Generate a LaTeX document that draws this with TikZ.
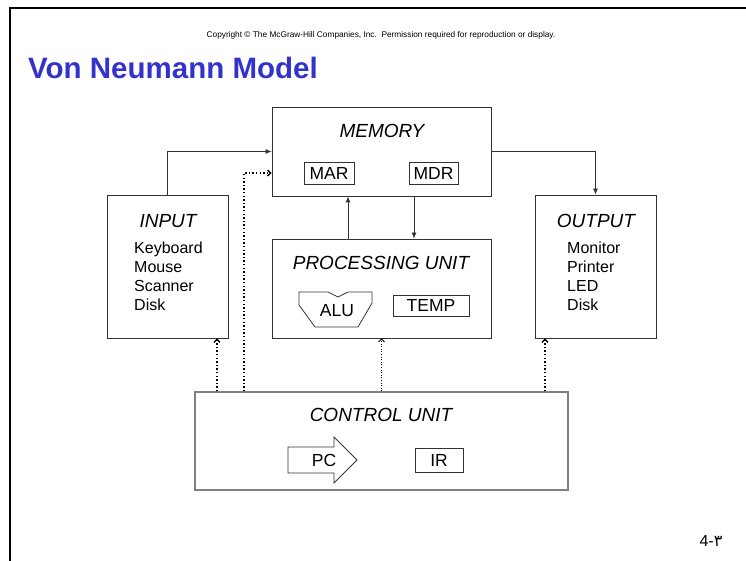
\documentclass[tikz,border=0pt]{standalone}
\usepackage{fontspec}
\setmainfont{Liberation Sans}
\newfontfamily\arabicfont[Script=Arabic]{DejaVu Sans}
\TeXXeTstate=1
\usetikzlibrary{arrows.meta, positioning}
\definecolor{titleblue}{HTML}{3333CC}
\definecolor{boxline}{HTML}{333333}
\definecolor{ctrlline}{HTML}{7F7F7F}

\begin{document}
\begin{tikzpicture}[
  x=1pt, y=-1pt,
  unit/.style={rectangle, draw=boxline, line width=0.8pt, inner sep=0pt},
  unitname/.style={font=\fontsize{19}{22}\selectfont\itshape, inner sep=0pt},
  devices/.style={font=\fontsize{16}{19}\selectfont, align=left, inner sep=0pt, anchor=north west},
  reg/.style={rectangle, draw=boxline, line width=0.8pt, inner sep=0pt, minimum height=22pt, font=\fontsize{17.5}{18}\selectfont},
  arrow/.style={-{Latex[length=6pt, width=5pt]}, draw=boxline, line width=0.8pt},
  ctrl/.style={-{Straight Barb[length=3pt, width=6pt]}, draw=black, line width=1.4pt, dash pattern=on 1.4pt off 2.2pt},
  ctrlthin/.style={ctrl, line width=0.8pt, dash pattern=on 1pt off 1.6pt}
]
  \useasboundingbox (0,0) rectangle (746,561);

  % Slide edge
  \draw[line width=2.5pt, line join=miter] (10,561) -- (10,8) -- (746,8);

  % Header
  \node[font=\fontsize{8.3}{9}\selectfont, inner sep=0pt] (copyright) at (381,35)
    {Copyright \textcopyright{} The McGraw-Hill Companies, Inc.\ \ Permission required for reproduction or display.};
  \node[anchor=base west, font=\fontsize{29.5}{31}\selectfont\bfseries, text=titleblue, inner sep=0pt] (title) at (28,79) {Von Neumann Model};

  % Memory
  \node[unit, minimum width=219pt, minimum height=89pt] (memory) at (381.5,151.5) {};
  \node[unitname] (memname) at (382,131) {MEMORY};
  \node[reg, minimum width=50pt] (mar) at (329,173) {MAR};
  \node[reg, minimum width=49pt] (mdr) at (433.5,173) {MDR};

  % Input and output
  \node[unit, minimum width=121pt, minimum height=143pt] (input) at (167.5,266.5) {};
  \node[unitname] (inname) at (168,221) {INPUT};
  \node[devices] (indev) at (134,242) {Keyboard\\Mouse\\Scanner\\Disk};

  \node[unit, minimum width=121pt, minimum height=143pt] (output) at (595.5,266.5) {};
  \node[unitname] (outname) at (596,221) {OUTPUT};
  \node[devices] (outdev) at (567,242) {Monitor\\Printer\\LED\\Disk};

  % Processing unit
  \node[unit, minimum width=219pt, minimum height=99pt] (pu) at (381.5,288.5) {};
  \node[unitname] (puname) at (381,263) {PROCESSING UNIT};
  \draw[draw=boxline, line width=0.8pt] (299,292) -- (328,292) -- (338,297) -- (348,292) -- (372,292)
    -- (372,303) -- (358,327) -- (315,327) -- (299,305) -- cycle;
  \node[font=\fontsize{17.5}{18}\selectfont, inner sep=0pt] (alu) at (337,311) {ALU};
  \node[reg, minimum width=76pt, minimum height=21pt] (temp) at (431,305.5) {TEMP};

  % Control unit
  \node[unit, draw=ctrlline, line width=1.2pt, minimum width=373pt, minimum height=98pt] (cu) at (381.5,441) {};
  \node[unitname] (cuname) at (381,415) {CONTROL UNIT};
  \draw[draw=boxline, line width=0.8pt] (288,447) -- (334,447) -- (334,437) -- (357,460)
    -- (334,483) -- (334,473) -- (288,473) -- cycle;
  \node[font=\fontsize{17.5}{18}\selectfont, inner sep=0pt] (pc) at (324,460) {PC};
  \node[reg, minimum width=48pt, minimum height=24pt] (ir) at (439,460) {IR};

  % Data paths
  \draw[arrow] (input.north) |- (memory.west);
  \draw[arrow] (memory.east) -| (output.north);
  \coordinate (addr) at (348,0);
  \coordinate (data) at (414,0);
  \draw[arrow] (pu.north -| addr) -- (memory.south -| addr);
  \draw[arrow] (memory.south -| data) -- (pu.north -| data);

  % Control signals
  \coordinate (ctlmem) at (244,173);
  \coordinate (ctlin) at (217,0);
  \coordinate (ctlout) at (545,0);
  \draw[ctrl] (cu.north -| ctlmem) |- (memory.west |- ctlmem);
  \draw[ctrl] (cu.north -| ctlin) -- (input.south -| ctlin);
  \draw[ctrlthin] (cu.north) -- (pu.south);
  \draw[ctrl] (cu.north -| ctlout) -- (output.south -| ctlout);

  % Page number
  \node[font=\fontsize{16}{16}\selectfont, inner sep=0pt] (pageno) at (711,541) {4-{\arabicfont ۳}};
\end{tikzpicture}
\end{document}
